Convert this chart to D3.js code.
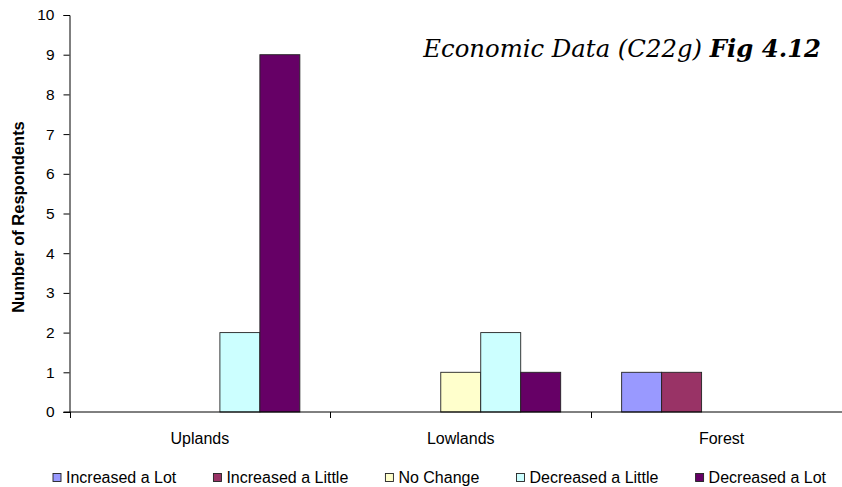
<!DOCTYPE html>
<html>
<head>
<meta charset="utf-8">
<script src="https://cdn.jsdelivr.net/npm/d3@7"></script>
<style>
  html, body { margin: 0; padding: 0; background: #fff; }
  svg { display: block; }
  text { font-family: "Liberation Sans", Arial, sans-serif; fill: #000; }
</style>
</head>
<body>
<svg id="chart" width="842" height="487"></svg>
<script>
// Survey responses: change in economic situation by zone
const categories = ["Uplands", "Lowlands", "Forest"];
const seriesNames = ["Increased a Lot", "Increased a Little", "No Change", "Decreased a Little", "Decreased a Lot"];
const seriesColors = ["#9999FF", "#993366", "#FFFFCC", "#CCFFFF", "#660066"];
const increasedALot    = [0, 0, 1];
const increasedALittle = [0, 0, 1];
const noChange         = [0, 1, 0];
const decreasedALittle = [2, 2, 0];
const decreasedALot    = [9, 1, 0];
const yTicks = [0, 1, 2, 3, 4, 5, 6, 7, 8, 9, 10];

const seriesValues = [increasedALot, increasedALittle, noChange, decreasedALittle, decreasedALot];

const svg = d3.select("#chart");
const plot = { left: 69.5, right: 852, top: 15, bottom: 412 };

const x0 = d3.scaleBand().domain(categories).range([plot.left, plot.right]).paddingInner(0).paddingOuter(0);
const x1 = d3.scaleBand().domain(seriesNames).range([0, x0.bandwidth()]).paddingInner(0).paddingOuter(0.7625);
const y = d3.scaleLinear().domain([0, 10]).range([plot.bottom, plot.top]);

// bars
const rows = [];
categories.forEach((c, ci) => {
  seriesNames.forEach((s, si) => {
    rows.push({ cat: c, series: s, value: seriesValues[si][ci], color: seriesColors[si] });
  });
});
svg.append("g").selectAll("rect")
  .data(rows.filter(d => d.value > 0))
  .join("rect")
  .attr("x", d => x0(d.cat) + x1(d.series))
  .attr("y", d => y(d.value))
  .attr("width", x1.bandwidth())
  .attr("height", d => y(0) - y(d.value))
  .attr("fill", d => d.color)
  .attr("stroke", "#222")
  .attr("stroke-width", 0.9);

// y axis
const yAxis = svg.append("g")
  .attr("transform", `translate(${plot.left},0)`)
  .call(d3.axisLeft(y).tickValues(yTicks).tickFormat(d3.format("d")).tickSize(6).tickPadding(9));
yAxis.select(".domain").attr("stroke", "#000");
yAxis.selectAll(".tick line").attr("stroke", "#000");
yAxis.selectAll("text").attr("font-size", 15.5).attr("font-family", "Liberation Sans, Arial, sans-serif");

// x axis with ticks at category boundaries
const xg = svg.append("g").attr("transform", `translate(0,${plot.bottom})`);
xg.append("line").attr("x1", plot.left - 6).attr("x2", plot.right).attr("stroke", "#000");
const bounds = categories.map(c => x0(c)).concat([plot.right]);
xg.selectAll("line.tk").data(bounds).join("line")
  .attr("class", "tk")
  .attr("x1", d => Math.round(d) + 0.5).attr("x2", d => Math.round(d) + 0.5)
  .attr("y1", 0).attr("y2", 6).attr("stroke", "#000");
xg.selectAll("text").data(categories).join("text")
  .attr("x", d => x0(d) + x0.bandwidth() / 2)
  .attr("y", 32)
  .attr("text-anchor", "middle")
  .attr("font-size", 16)
  .text(d => d);

// y axis title
svg.append("text")
  .attr("transform", "translate(24,217) rotate(-90)")
  .attr("text-anchor", "middle")
  .attr("font-size", 16.5)
  .attr("font-weight", "bold")
  .text("Number of Respondents");

// figure title
const title = svg.append("text")
  .attr("x", 821).attr("y", 57)
  .attr("text-anchor", "end")
  .attr("font-size", 22)
  .attr("font-style", "italic")
  .style("font-family", "'DejaVu Serif', 'Liberation Serif', serif");
title.append("tspan").text("Economic Data (C22g) ");
title.append("tspan").attr("font-weight", "bold").text("Fig 4.12");
const tw = title.node().getComputedTextLength();
title.attr("font-size", 22 * 398 / tw);

// legend
const legend = svg.append("g");
const items = legend.selectAll("g").data(seriesNames).join("g");
items.append("rect")
  .attr("width", 8).attr("height", 8)
  .attr("y", 473.5)
  .attr("fill", (d, i) => seriesColors[i])
  .attr("stroke", "#222").attr("stroke-width", 0.9);
items.append("text")
  .attr("x", 13).attr("y", 483)
  .attr("font-size", 16)
  .text(d => d);
const widths = items.nodes().map(n => 13 + n.querySelector("text").getComputedTextLength());
const legStart = 53, legEnd = 826;
const gap = (legEnd - legStart - d3.sum(widths)) / (widths.length - 1);
let cx = legStart;
items.each(function (d, i) {
  d3.select(this).attr("transform", `translate(${cx},0)`);
  cx += widths[i] + gap;
});
</script>
</body>
</html>
